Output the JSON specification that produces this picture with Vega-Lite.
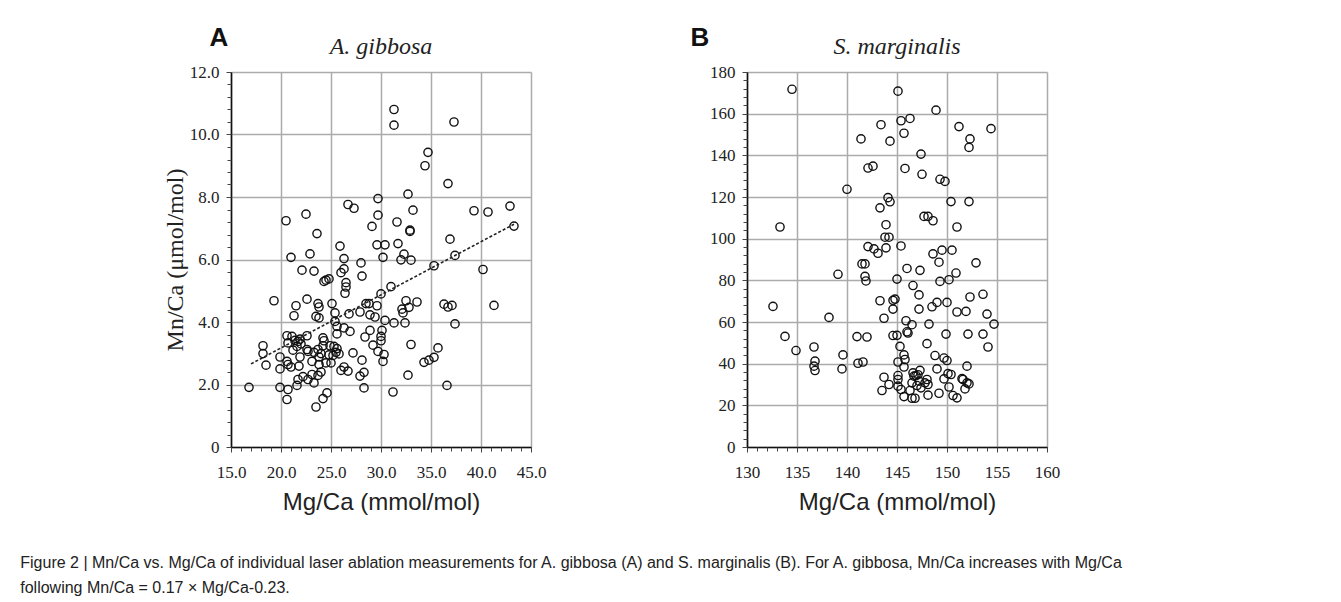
{
  "$schema": "https://vega.github.io/schema/vega-lite/v6.json",
  "autosize": {"type": "none"},
  "padding": {"left": 231, "top": 72, "right": 1110, "bottom": 530},
  "background": "white",
  "datasets": {
    "ag": [
      {"x":31.3,"y":10.8},{"x":31.3,"y":10.3},{"x":37.3,"y":10.4},{"x":34.7,"y":9.43},{"x":34.4,"y":9.0},{"x":36.7,"y":8.43},{"x":29.7,"y":7.95},{"x":32.7,"y":8.09},{"x":26.7,"y":7.76},{"x":27.3,"y":7.64},{"x":29.7,"y":7.42},{"x":33.2,"y":7.58},{"x":39.3,"y":7.56},{"x":40.7,"y":7.52},{"x":42.9,"y":7.71},{"x":43.3,"y":7.07},{"x":20.5,"y":7.24},{"x":22.5,"y":7.45},{"x":23.6,"y":6.83},{"x":29.1,"y":7.06},{"x":31.6,"y":7.2},{"x":32.9,"y":6.94},{"x":32.9,"y":6.9},{"x":36.9,"y":6.65},{"x":29.6,"y":6.47},{"x":30.4,"y":6.47},{"x":31.7,"y":6.51},{"x":25.9,"y":6.43},{"x":21.0,"y":6.07},{"x":22.9,"y":6.18},{"x":26.3,"y":6.03},{"x":28.0,"y":5.89},{"x":30.2,"y":6.07},{"x":32.0,"y":5.99},{"x":32.3,"y":6.17},{"x":33.0,"y":5.98},{"x":37.4,"y":6.13},{"x":35.3,"y":5.8},{"x":40.2,"y":5.68},{"x":22.1,"y":5.66},{"x":23.3,"y":5.63},{"x":26.0,"y":5.58},{"x":26.3,"y":5.7},{"x":28.1,"y":5.47},{"x":24.3,"y":5.3},{"x":24.5,"y":5.34},{"x":24.8,"y":5.38},{"x":26.5,"y":5.26},{"x":26.5,"y":5.12},{"x":26.4,"y":4.92},{"x":31.0,"y":5.13},{"x":30.0,"y":4.9},
      {"x":19.3,"y":4.68},{"x":21.5,"y":4.52},{"x":21.3,"y":4.2},{"x":22.6,"y":4.73},{"x":23.7,"y":4.59},{"x":23.8,"y":4.48},{"x":23.5,"y":4.18},{"x":23.8,"y":4.13},{"x":25.1,"y":4.59},{"x":25.4,"y":4.29},{"x":28.5,"y":4.59},{"x":28.8,"y":4.59},{"x":29.6,"y":4.52},{"x":27.9,"y":4.32},{"x":26.8,"y":4.26},{"x":28.9,"y":4.23},{"x":29.4,"y":4.16},{"x":30.4,"y":4.05},{"x":31.3,"y":3.97},{"x":32.2,"y":4.29},{"x":32.1,"y":4.41},{"x":32.5,"y":4.68},{"x":32.8,"y":4.47},{"x":33.6,"y":4.64},{"x":32.4,"y":3.97},{"x":36.3,"y":4.57},{"x":36.7,"y":4.48},{"x":37.1,"y":4.53},{"x":41.3,"y":4.53},{"x":37.4,"y":3.94},{"x":25.4,"y":4.02},{"x":25.6,"y":3.86},{"x":25.6,"y":3.62},{"x":26.3,"y":3.81},{"x":26.9,"y":3.7},{"x":28.9,"y":3.73},{"x":30.1,"y":3.73},{"x":30.0,"y":3.54},{"x":30.0,"y":3.4},{"x":28.4,"y":3.52},{"x":33.0,"y":3.28},{"x":29.2,"y":3.26},{"x":29.7,"y":3.06},{"x":30.3,"y":2.96},{"x":30.2,"y":2.74},{"x":27.2,"y":3.01},{"x":28.1,"y":2.78},{"x":35.7,"y":3.17},{"x":35.3,"y":2.87},{"x":34.8,"y":2.78},{"x":34.3,"y":2.71},{"x":26.7,"y":2.43},{"x":26.3,"y":2.56},{"x":28.3,"y":2.39},{"x":27.9,"y":2.27},{"x":32.7,"y":2.3},{"x":36.6,"y":1.97},{"x":28.3,"y":1.89},{"x":31.2,"y":1.76},{"x":16.8,"y":1.91},{"x":18.2,"y":3.24},{"x":18.2,"y":2.99},{"x":18.5,"y":2.62},{"x":19.9,"y":2.88},{"x":19.9,"y":2.5},{"x":19.9,"y":1.91},{"x":20.6,"y":3.56},{"x":20.7,"y":3.33},{"x":21.1,"y":3.54},{"x":21.4,"y":3.41},{"x":21.7,"y":3.38},{"x":21.6,"y":3.22},{"x":20.6,"y":2.74},{"x":20.7,"y":2.64},{"x":21.0,"y":2.56},{"x":21.8,"y":2.59},{"x":21.9,"y":2.88},{"x":22.6,"y":3.56},{"x":22.6,"y":3.12},{"x":22.7,"y":3.06},{"x":23.1,"y":2.74},{"x":23.1,"y":2.32},{"x":22.7,"y":2.16},{"x":23.3,"y":2.05},{"x":21.7,"y":2.16},{"x":21.6,"y":1.97},{"x":20.7,"y":1.84},{"x":20.6,"y":1.52},{"x":23.5,"y":1.28},{"x":24.2,"y":1.55},{"x":24.6,"y":1.73},{"x":23.7,"y":2.29},{"x":23.8,"y":2.64},{"x":23.8,"y":2.88},{"x":24.0,"y":2.99},{"x":23.7,"y":3.12},{"x":23.3,"y":3.03},{"x":24.2,"y":3.49},{"x":24.3,"y":3.4},{"x":24.2,"y":3.24},{"x":24.5,"y":2.69},{"x":25.0,"y":2.69},{"x":24.9,"y":3.24},{"x":25.3,"y":3.22},{"x":25.5,"y":3.03},{"x":25.2,"y":2.93},
      {"x":21.9,"y":3.45},{"x":22.0,"y":3.3},{"x":21.2,"y":3.1},{"x":25.6,"y":3.15},{"x":25.8,"y":2.98},{"x":24.8,"y":2.95},{"x":26.0,"y":2.45},{"x":22.2,"y":2.25},{"x":24.0,"y":2.4}
    ],
    "agfit": [{"x":17.0,"y":2.66},{"x":43.3,"y":7.13}],
    "sm": [
      {"x":134.5,"y":171.7},{"x":145.1,"y":170.8},{"x":148.9,"y":161.7},{"x":145.4,"y":156.6},{"x":146.3,"y":157.7},{"x":143.4,"y":154.7},{"x":151.2,"y":153.8},{"x":154.4,"y":152.8},{"x":145.7,"y":150.6},{"x":141.4,"y":147.9},{"x":144.3,"y":146.8},{"x":152.3,"y":147.9},{"x":152.2,"y":143.8},{"x":147.4,"y":140.6},{"x":142.1,"y":133.9},{"x":142.6,"y":134.8},{"x":145.8,"y":133.7},{"x":147.5,"y":130.9},{"x":149.3,"y":128.5},{"x":149.8,"y":127.5},{"x":140.0,"y":123.7},{"x":144.1,"y":119.7},{"x":144.3,"y":117.7},{"x":143.3,"y":114.8},{"x":150.4,"y":117.8},{"x":152.2,"y":117.8},{"x":147.7,"y":110.7},{"x":148.1,"y":110.7},{"x":148.6,"y":108.6},{"x":133.3,"y":105.6},{"x":143.9,"y":106.7},{"x":151.0,"y":105.6},{"x":143.8,"y":100.7},{"x":144.2,"y":100.7},{"x":142.1,"y":96.2},{"x":142.7,"y":95.1},{"x":143.1,"y":93.0},{"x":143.9,"y":95.6},{"x":145.4,"y":96.5},{"x":148.6,"y":92.7},{"x":149.5,"y":94.5},{"x":150.5,"y":94.5},{"x":152.9,"y":88.4},{"x":141.5,"y":87.9},{"x":141.8,"y":87.9},{"x":149.2,"y":88.7},{"x":146.0,"y":85.7},{"x":147.3,"y":84.8},{"x":150.9,"y":83.5},{"x":139.1,"y":82.9},{"x":141.8,"y":81.9},{"x":141.9,"y":79.7},{"x":145.0,"y":80.6},{"x":149.3,"y":79.5},{"x":150.2,"y":80.3},{"x":146.6,"y":77.5},{"x":147.2,"y":73.0},{"x":153.6,"y":73.3},{"x":152.3,"y":72.0},
      {"x":132.6,"y":67.5},{"x":133.8,"y":53.1},{"x":134.9,"y":46.3},{"x":136.7,"y":48.0},{"x":136.8,"y":41.2},{"x":136.7,"y":38.8},{"x":136.8,"y":36.7},{"x":138.2,"y":62.2},{"x":139.6,"y":44.2},{"x":139.5,"y":37.5},{"x":141.0,"y":53.0},{"x":142.0,"y":52.8},{"x":141.1,"y":40.2},{"x":141.6,"y":40.8},{"x":143.3,"y":70.2},{"x":143.7,"y":61.8},{"x":144.6,"y":70.4},{"x":144.8,"y":71.0},{"x":144.6,"y":66.2},{"x":144.6,"y":53.5},{"x":145.0,"y":53.6},{"x":143.7,"y":33.5},{"x":143.5,"y":27.1},{"x":144.2,"y":30.0},{"x":145.1,"y":34.3},{"x":145.1,"y":32.4},{"x":145.1,"y":29.2},{"x":145.4,"y":27.6},{"x":145.7,"y":24.2},{"x":145.1,"y":40.8},{"x":145.3,"y":48.3},{"x":145.7,"y":44.2},{"x":145.8,"y":42.0},{"x":145.7,"y":38.4},{"x":145.9,"y":60.6},{"x":146.1,"y":54.7},{"x":146.0,"y":55.3},{"x":146.5,"y":58.7},{"x":147.2,"y":66.2},{"x":148.2,"y":59.0},{"x":148.5,"y":67.3},{"x":149.0,"y":69.4},{"x":150.0,"y":69.4},{"x":148.0,"y":49.6},{"x":148.8,"y":43.9},{"x":149.7,"y":42.7},{"x":150.0,"y":41.5},{"x":149.9,"y":54.2},{"x":151.0,"y":64.8},{"x":151.9,"y":65.1},{"x":154.0,"y":63.8},{"x":154.7,"y":59.0},{"x":152.1,"y":54.2},{"x":153.6,"y":54.2},{"x":154.1,"y":48.0},{"x":152.0,"y":38.8},{"x":149.0,"y":37.5},{"x":149.7,"y":32.7},{"x":150.1,"y":35.2},{"x":150.4,"y":34.8},{"x":150.2,"y":28.8},{"x":150.6,"y":24.7},{"x":151.0,"y":23.6},{"x":149.2,"y":25.8},{"x":148.1,"y":24.9},{"x":148.0,"y":32.4},{"x":147.8,"y":30.8},{"x":148.1,"y":30.0},{"x":147.4,"y":28.4},{"x":147.2,"y":31.6},{"x":146.9,"y":34.3},{"x":147.3,"y":36.8},{"x":147.1,"y":34.7},{"x":146.7,"y":34.0},{"x":146.6,"y":35.6},{"x":146.5,"y":30.8},{"x":146.3,"y":27.1},{"x":146.5,"y":23.4},{"x":146.8,"y":23.4},{"x":147.0,"y":29.5},{"x":151.5,"y":32.8},{"x":151.6,"y":32.4},{"x":151.8,"y":27.9},{"x":152.0,"y":30.8},{"x":152.2,"y":30.3}
    ]
  },
  "title": {
    "text": ["Figure 2 | Mn/Ca vs. Mg/Ca of individual laser ablation measurements for A. gibbosa (A) and S. marginalis (B). For A. gibbosa, Mn/Ca increases with Mg/Ca", "following Mn/Ca = 0.17 × Mg/Ca-0.23."],
    "orient": "bottom", "anchor": "start", "frame": "bounds",
    "font": "Liberation Sans", "fontSize": 16, "fontWeight": "normal", "color": "#222",
    "lineHeight": 25, "dx": -143, "offset": 41
  },
  "bounds": "flush",
  "spacing": 216,
  "hconcat": [
    {
      "width": 300, "height": 375,
      "title": {"text": "A. gibbosa", "font": "Liberation Serif", "fontStyle": "italic", "fontWeight": "normal", "fontSize": 24, "color": "#222", "anchor": "middle", "offset": -35},
      "layer": [
        {
          "data": {"name": "ag"},
          "mark": {"type": "point", "shape": "circle", "filled": false, "stroke": "#111", "strokeWidth": 1.4, "size": 68, "opacity": 1},
          "encoding": {
            "x": {"field": "x", "type": "quantitative", "scale": {"domain": [15, 45], "nice": false, "zero": false},
              "axis": {"orient": "bottom", "values": [15, 20, 25, 30, 35, 40, 45], "format": ".1f", "labelPadding": 12, "title": "Mg/Ca (mmol/mol)"}},
            "y": {"field": "y", "type": "quantitative", "scale": {"domain": [0, 12], "nice": false, "zero": false},
              "axis": {"orient": "left", "values": [0, 2, 4, 6, 8, 10, 12], "labelExpr": "datum.value === 0 ? '0' : format(datum.value, '.1f')", "labelPadding": 7, "title": "Mn/Ca (μmol/mol)", "titleFont": "Liberation Serif", "titlePadding": 2}}
          }
        },
        {
          "data": {"name": "agfit"},
          "mark": {"type": "line", "strokeDash": [3, 2], "color": "#222", "strokeWidth": 1.6},
          "encoding": {
            "x": {"field": "x", "type": "quantitative", "axis": null},
            "y": {"field": "y", "type": "quantitative", "axis": null}
          }
        },
        {
          "data": {"name": "ag"},
          "mark": {"type": "point", "opacity": 0},
          "encoding": {
            "x": {"field": "x", "type": "quantitative", "axis": {"orient": "bottom", "values": [15,16,17,18,19,20,21,22,23,24,25,26,27,28,29,30,31,32,33,34,35,36,37,38,39,40,41,42,43,44,45], "labels": false, "grid": false, "domain": false, "tickSize": 4, "title": null}},
            "y": {"field": "y", "type": "quantitative", "axis": {"orient": "left", "values": [0,0.4,0.8,1.2,1.6,2,2.4,2.8,3.2,3.6,4,4.4,4.8,5.2,5.6,6,6.4,6.8,7.2,7.6,8,8.4,8.8,9.2,9.6,10,10.4,10.8,11.2,11.6,12], "labels": false, "grid": false, "domain": false, "tickSize": 4,
              "title": "A", "titleAngle": 0, "titleX": -22, "titleY": -35, "titleAlign": "left", "titleBaseline": "middle", "titleFont": "Liberation Sans", "titleFontWeight": "bold", "titleFontSize": 26, "titleColor": "#111"}}
          }
        }
      ],
      "resolve": {"axis": {"x": "independent", "y": "independent"}}
    },
    {
      "width": 300, "height": 375,
      "title": {"text": "S. marginalis", "font": "Liberation Serif", "fontStyle": "italic", "fontWeight": "normal", "fontSize": 24, "color": "#222", "anchor": "middle", "offset": -35},
      "layer": [
        {
          "data": {"name": "sm"},
          "mark": {"type": "point", "shape": "circle", "filled": false, "stroke": "#111", "strokeWidth": 1.4, "size": 68, "opacity": 1},
          "encoding": {
            "x": {"field": "x", "type": "quantitative", "scale": {"domain": [130, 160], "nice": false, "zero": false},
              "axis": {"orient": "bottom", "values": [130, 135, 140, 145, 150, 155, 160], "format": "d", "labelPadding": 12, "title": "Mg/Ca (mmol/mol)"}},
            "y": {"field": "y", "type": "quantitative", "scale": {"domain": [0, 180], "nice": false, "zero": false},
              "axis": {"orient": "left", "values": [0, 20, 40, 60, 80, 100, 120, 140, 160, 180], "format": "d", "labelPadding": 7, "title": null}}
          }
        },
        {
          "data": {"name": "sm"},
          "mark": {"type": "point", "opacity": 0},
          "encoding": {
            "x": {"field": "x", "type": "quantitative", "axis": {"orient": "bottom", "values": [130,131,132,133,134,135,136,137,138,139,140,141,142,143,144,145,146,147,148,149,150,151,152,153,154,155,156,157,158,159,160], "labels": false, "grid": false, "domain": false, "tickSize": 4, "title": null}},
            "y": {"field": "y", "type": "quantitative", "axis": {"orient": "left", "values": [0,4,8,12,16,20,24,28,32,36,40,44,48,52,56,60,64,68,72,76,80,84,88,92,96,100,104,108,112,116,120,124,128,132,136,140,144,148,152,156,160,164,168,172,176,180], "labels": false, "grid": false, "domain": false, "tickSize": 4,
              "title": "B", "titleAngle": 0, "titleX": -57, "titleY": -35, "titleAlign": "left", "titleBaseline": "middle", "titleFont": "Liberation Sans", "titleFontWeight": "bold", "titleFontSize": 26, "titleColor": "#111"}}
          }
        }
      ],
      "resolve": {"axis": {"x": "independent", "y": "independent"}}
    }
  ],
  "config": {
    "view": {"stroke": null},
    "axis": {
      "grid": true, "gridColor": "#ababab", "gridWidth": 1.5,
      "domainColor": "#111", "domainWidth": 1.6,
      "tickColor": "#444", "tickSize": 5, "tickWidth": 1,
      "labelFont": "Liberation Serif", "labelFontSize": 17, "labelColor": "#222", "labelFlush": false, "labelOverlap": false,
      "titleFont": "Liberation Sans", "titleFontSize": 24, "titleFontWeight": "normal", "titleColor": "#222", "titlePadding": 10
    }
  }
}
